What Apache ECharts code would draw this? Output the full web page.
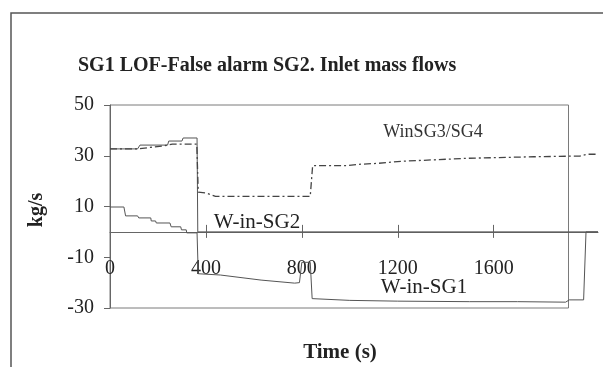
<!DOCTYPE html>
<html>
<head>
<meta charset="utf-8">
<script src="https://cdn.jsdelivr.net/npm/echarts@6/dist/echarts.min.js"></script>
<style>
  html, body { margin: 0; padding: 0; background: #fff; }
  #chart { width: 603px; height: 367px; }
</style>
</head>
<body>
<div id="chart"></div>
<script>
// Data (time in s, flow in kg/s)
const xTicks = [400, 800, 1200, 1600]
const xLabels = [0, 400, 800, 1200, 1600]
const plotEnd = 1912   // right edge of the plot frame; the traces run on past it

const sg2Time = [0, 115, 125, 240, 245, 300, 305, 363, 366, 2035]
const sg2Flow = [32.7, 32.7, 34.2, 34.2, 35.8, 35.8, 37, 37, 0, 0]

const sg1Time = [0, 58, 65, 115, 120, 170, 172, 190, 193, 250, 255, 295, 298, 318, 320, 363, 368,
  460, 630, 770, 790, 800, 835, 843, 1000, 1200, 1500, 1700, 1900, 1915, 1975, 1985, 2035]
const sg1Flow = [9.8, 9.8, 6.3, 6.3, 5.5, 5.5, 4.3, 4.3, 3.5, 3.5, 2.0, 2.0, 0.8, 0.8, -0.4, -0.4, -16.5,
  -17, -19, -20.2, -20, -12, -12, -26.3, -27, -27.3, -27.5, -27.5, -27.7, -26.8, -26.8, 0, 0]

const sg34Time = [0, 115, 225, 260, 362, 368, 400, 440, 835, 845, 990, 1033, 1117, 1213, 1490, 1767, 1960, 1990, 2035]
const sg34Flow = [32.7, 32.7, 33.9, 34.6, 34.6, 15.7, 15.3, 14, 14, 26.1, 26.1, 26.6, 27, 27.8, 29, 29.6, 29.9, 30.6, 30.6]

const pairs = (t, v) => t.map((x, i) => [x, v[i]])

const FONT = '"Liberation Serif", "Times New Roman", serif'
const INK = '#222'
const LINE = '#555'

const chart = echarts.init(document.getElementById('chart'), null, { renderer: 'canvas' })

const lineBase = {
  type: 'line',
  showSymbol: false,
  symbol: 'none',
  silent: true,
  animation: false,
}

chart.setOption({
  animation: false,
  backgroundColor: '#fff',
  textStyle: { fontFamily: FONT, color: INK },
  title: {
    text: 'SG1 LOF-False alarm SG2. Inlet mass flows',
    left: 73,
    top: 51,
    textStyle: { fontFamily: FONT, fontSize: 20, fontWeight: 'bold', color: INK },
  },
  grid: { left: 110, right: 5, top: 105, bottom: 59, show: false },
  xAxis: [
    {
      type: 'value',
      min: 0,
      max: 2035,
      interval: 400,
      splitLine: { show: false },
      axisLine: { show: true, onZero: true, lineStyle: { color: '#666', width: 1 } },
      axisTick: { show: true, inside: false, length: 6, customValues: xTicks, lineStyle: { color: '#666' } },
      axisLabel: {
        customValues: xLabels,
        formatter: v => String(v),
        margin: -49,
        fontFamily: FONT,
        fontSize: 20,
        color: INK,
      },
    },
    {
      type: 'value',
      min: 0,
      max: 2035,
      interval: 400,
      position: 'bottom',
      splitLine: { show: false },
      axisLine: { show: false, onZero: true, onZeroAxisIndex: 0 },
      axisTick: { show: true, inside: true, length: 7, customValues: xTicks, lineStyle: { color: '#666' } },
      axisLabel: { show: false },
    },
  ],
  yAxis: {
    type: 'value',
    min: -30,
    max: 50,
    interval: 20,
    splitLine: { show: false },
    axisLine: { show: true, onZero: false, lineStyle: { color: '#666', width: 1 } },
    axisTick: { show: true, length: 6, lineStyle: { color: '#666' } },
    axisLabel: { margin: 16, fontFamily: FONT, fontSize: 20, color: INK },
  },
  series: [
    {
      ...lineBase,
      name: 'W-in-SG2',
      data: pairs(sg2Time, sg2Flow),
      lineStyle: { color: LINE, width: 1 },
    },
    {
      ...lineBase,
      name: 'W-in-SG1',
      data: pairs(sg1Time, sg1Flow),
      lineStyle: { color: LINE, width: 1 },
    },
    {
      ...lineBase,
      name: 'WinSG3/SG4',
      data: pairs(sg34Time, sg34Flow),
      lineStyle: { color: '#444', width: 1.3, type: [7, 3, 2, 3] },
    },
  ],
})

// plot frame: from the axis origin to plotEnd, full y range
const tl = chart.convertToPixel({ xAxisIndex: 0, yAxisIndex: 0 }, [0, 50])
const br = chart.convertToPixel({ xAxisIndex: 0, yAxisIndex: 0 }, [plotEnd, -30])

chart.setOption({
  graphic: [
    {
      type: 'rect',
      silent: true,
      shape: { x: 11, y: 13, width: 700, height: 500 },
      style: { fill: 'none', stroke: '#555', lineWidth: 1.5 },
    },
    {
      type: 'rect',
      silent: true,
      shape: { x: tl[0], y: tl[1], width: br[0] - tl[0], height: br[1] - tl[1] },
      style: { fill: 'none', stroke: '#7a7a7a', lineWidth: 1 },
    },
    {
      type: 'text',
      silent: true,
      x: 37, y: 210, rotation: Math.PI / 2,
      style: { text: 'kg/s', font: 'bold 20px ' + FONT, fill: INK, align: 'center', verticalAlign: 'middle' },
    },
    {
      type: 'text',
      silent: true,
      x: 340, y: 353,
      style: { text: 'Time (s)', font: 'bold 21px ' + FONT, fill: INK, align: 'center', verticalAlign: 'middle' },
    },
    {
      type: 'text',
      silent: true,
      x: 257, y: 222,
      style: { text: 'W-in-SG2', font: '21px ' + FONT, fill: INK, align: 'center', verticalAlign: 'middle' },
    },
    {
      type: 'text',
      silent: true,
      x: 424, y: 287,
      style: { text: 'W-in-SG1', font: '21px ' + FONT, fill: INK, align: 'center', verticalAlign: 'middle' },
    },
    {
      type: 'text',
      silent: true,
      x: 433, y: 132,
      style: { text: 'WinSG3/SG4', font: '18px ' + FONT, fill: '#333', align: 'center', verticalAlign: 'middle' },
    },
  ],
})
</script>
</body>
</html>
